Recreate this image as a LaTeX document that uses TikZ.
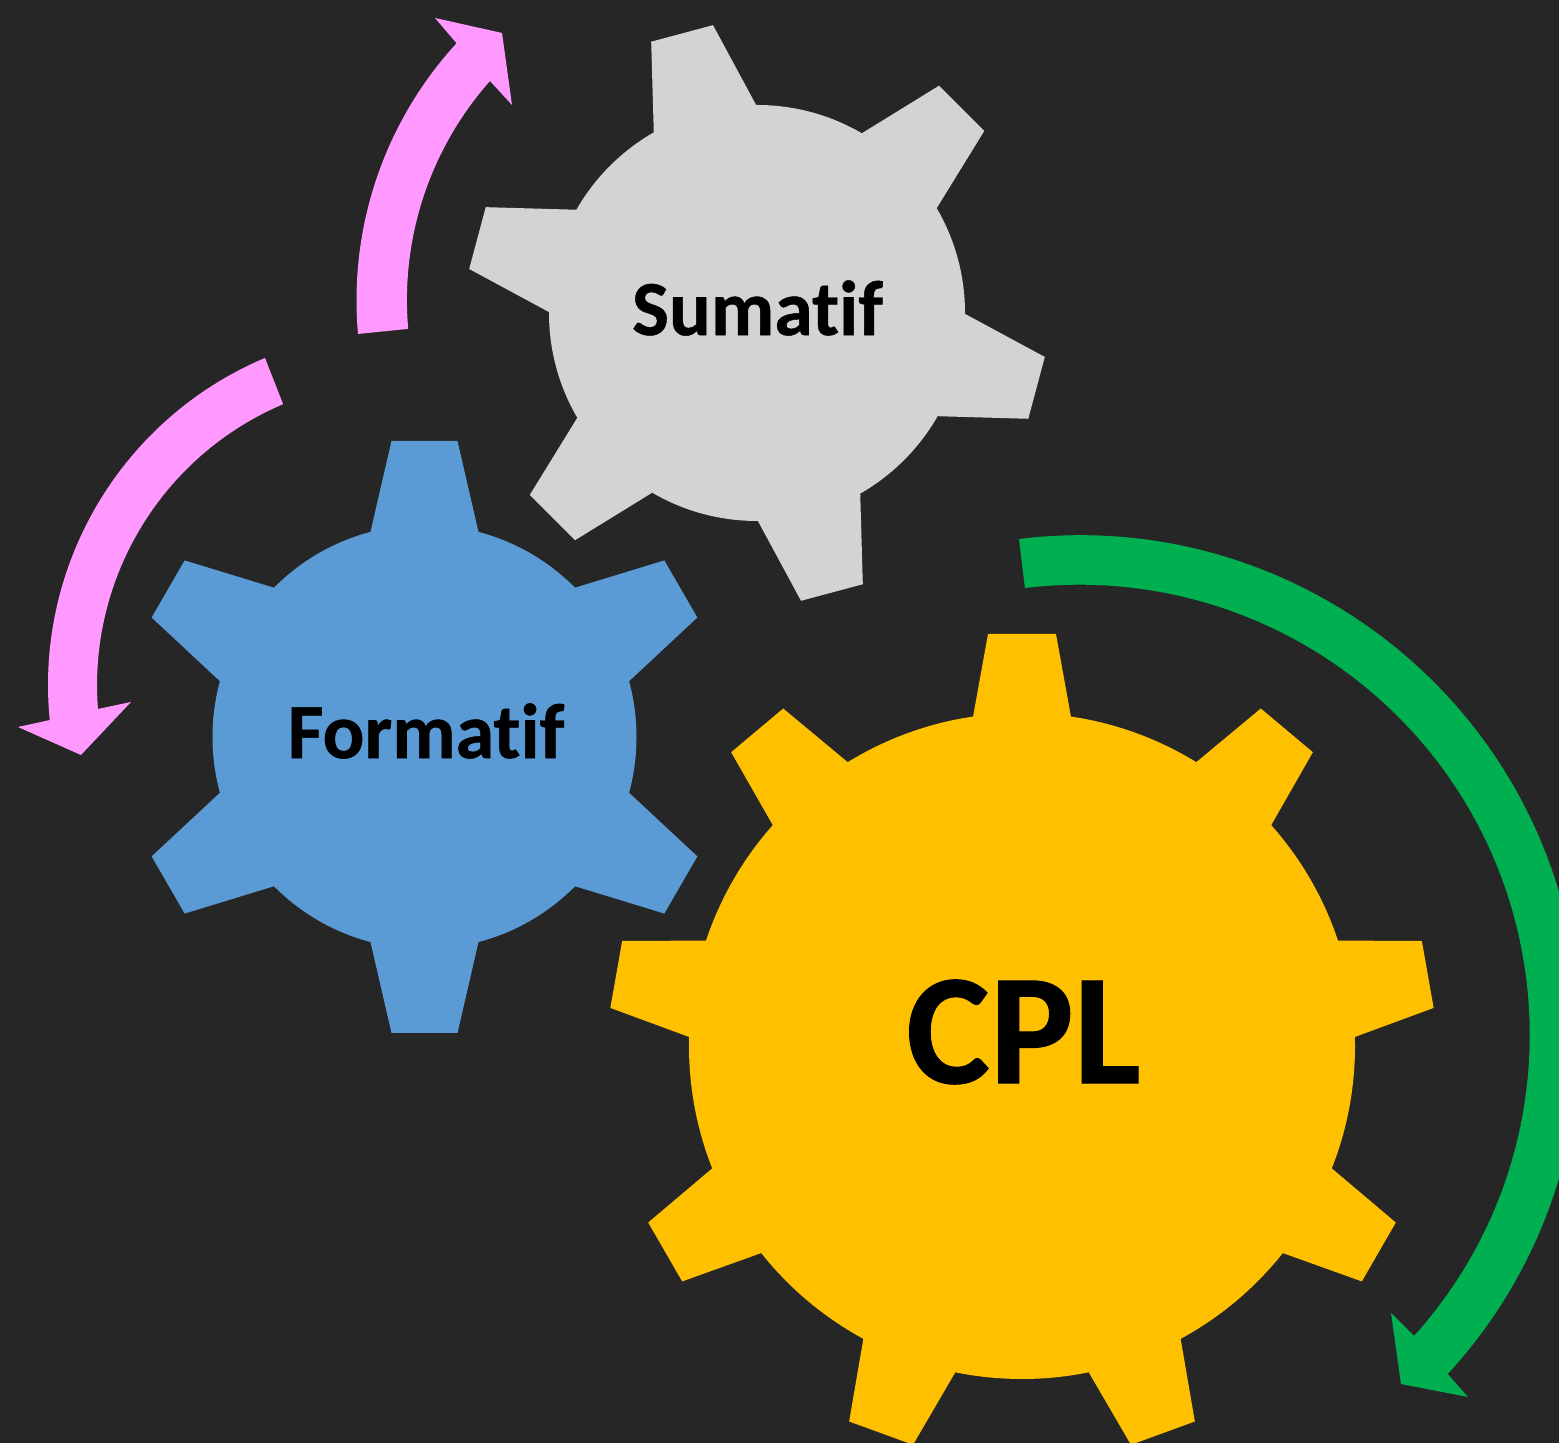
\documentclass[tikz,border=0pt]{standalone}
\usepackage{fontspec}
\setmainfont[Ligatures=NoCommon,BoldFeatures={FakeBold=0.6}]{Carlito}
\definecolor{bgdark}{HTML}{262626}
\definecolor{goldc}{HTML}{FFC000}
\definecolor{bluec}{HTML}{5B9BD5}
\definecolor{grayc}{HTML}{D3D3D3}
\definecolor{pinkc}{HTML}{FF99FF}
\definecolor{greenc}{HTML}{00B050}
\tikzset{gearlabel/.style={text=black,font=\bfseries,inner sep=0pt}}
% centre x, centre y, radius, tip radius, tip half width, base offset, base half width, list of angles, colour
\newcommand{\mygear}[9]{%
  \begin{scope}[shift={(#1,1443-#2)}]
    \fill[#9] (0,0) circle[radius=#3];
    \foreach \myang in {#8}{
      \fill[#9,rotate=\myang] (-#7,#6) -- (-#5,#4) -- (#5,#4) -- (#7,#6) -- (#7,#6-30) -- (-#7,#6-30) -- cycle;
    }
  \end{scope}}
\begin{document}
\begin{tikzpicture}[x=0.5pt,y=0.5pt]
\clip (0,0) rectangle (1559,1443);
\fill[bgdark] (0,0) rectangle (1559,1443);
\mygear{757}{313}{208}{289.4}{32}{201}{53}{15,75,135,195,255,315}{grayc}
\mygear{424.5}{737}{212}{296}{33}{205}{54}{0,60,120,180,240,300}{bluec}
\mygear{1022}{1046}{333}{412}{34}{329}{49}{0,40,80,120,160,200,240,280,320}{goldc}
% arrows
\fill[pinkc] (358,1443-334) arc[start angle=185.1,end angle=137.45,radius=380]
  -- (435,1443-18) -- (502,1443-33) -- (512,1443-105) -- (490,1443-81)
  arc[start angle=138.44,end angle=185.04,radius=330] -- cycle;
\fill[pinkc] (265,1443-358) arc[start angle=112.88,end angle=185.66,radius=355]
  -- (18,1443-727) -- (81,1443-755) -- (131,1443-702) -- (98,1443-709)
  arc[start angle=184.5,end angle=112.95,radius=305] -- cycle;
\fill[greenc] (1019,1443-539) arc[start angle=97,end angle=-42.65,radius=500]
  -- (1468,1443-1397) -- (1401,1443-1384) -- (1391,1443-1313) -- (1414,1443-1336)
  arc[start angle=-42.03,end angle=97,radius=450] -- cycle;
\node[gearlabel,font=\fontsize{39}{39}\selectfont\bfseries] (sumatif) at (757.5,1443-308) {Sumatif};
\node[gearlabel,font=\fontsize{39}{39}\selectfont\bfseries] (formatif) at (426,1443-731) {Formatif};
\node[gearlabel,font=\fontsize{79}{79}\selectfont\bfseries] (cpl) at (1023.5,1443-1032) {CPL};
\end{tikzpicture}
\end{document}
